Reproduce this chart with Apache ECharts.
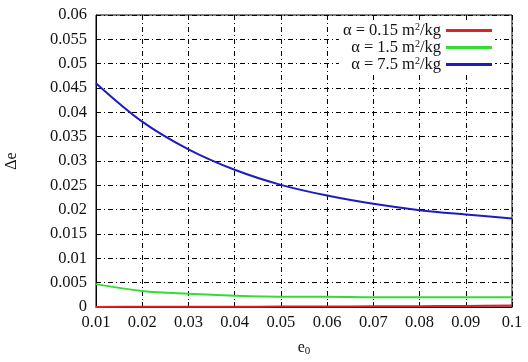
<!DOCTYPE html>
<html>
<head>
<meta charset="utf-8">
<script src="https://cdn.jsdelivr.net/npm/echarts@6/dist/echarts.min.js"></script>
<style>
  html, body { margin: 0; padding: 0; background: #fff; }
  #chart { width: 528px; height: 362px; }
</style>
</head>
<body>
<div id="chart"></div>
<script>
const e0 = [0.01, 0.02, 0.03, 0.04, 0.05, 0.06, 0.07, 0.08, 0.09, 0.1];
const redValues = [0.00002, 0.00003, 0.00004, 0.00006, 0.00008, 0.0001, 0.00013, 0.00017, 0.00022, 0.0003];
const greenValues = [0.0047, 0.0033, 0.0027, 0.0023, 0.0021, 0.0021, 0.002, 0.002, 0.002, 0.002];
const blueValues = [0.046, 0.0381, 0.0324, 0.0282, 0.0251, 0.0229, 0.0212, 0.0199, 0.019, 0.0182];
const seriesNames = ['α = 0.15 m²/kg', 'α = 1.5 m²/kg', 'α = 7.5 m²/kg'];
const colors = ['#e0202a', '#33dd33', '#1c1cc0'];

const font = '"Liberation Serif", "DejaVu Serif", serif';
const pairs = vals => e0.map((x, i) => [x, vals[i]]);
const gridDash = [5, 3, 1, 3];

const chart = echarts.init(document.getElementById('chart'));
chart.setOption({
  animation: false,
  grid: { left: 96, right: 16, top: 15, bottom: 55, show: true, borderColor: '#000', borderWidth: 1, outerBoundsMode: 'none', containLabel: false },
  legend: {
    orient: 'vertical',
    right: 33,
    top: 21,
    align: 'right',
    itemWidth: 46,
    itemHeight: 3,
    itemGap: 0,
    backgroundColor: '#fff',
    padding: [1, 3, 1, 4],
    icon: 'rect',
    data: seriesNames,
    formatter: n => n.replace('²', '{sup|2}'),
    textStyle: {
      fontFamily: font, fontSize: 16.5, lineHeight: 16.5, color: '#111',
      rich: { sup: { fontFamily: font, fontSize: 10, lineHeight: 10, color: '#111', padding: [0, 0, 6, 0] } }
    }
  },
  xAxis: {
    type: 'value',
    min: 0.01, max: 0.1, interval: 0.01,
    name: 'e{sub|0}',
    nameLocation: 'middle',
    nameGap: 31,
    nameTextStyle: {
      fontFamily: font, fontSize: 16, color: '#111',
      rich: { sub: { fontFamily: font, fontSize: 11, color: '#111', padding: [8, 0, 0, 0] } }
    },
    axisLine: { lineStyle: { color: '#000' } },
    axisTick: { inside: true, length: 5, lineStyle: { color: '#000' } },
    axisLabel: { fontFamily: font, fontSize: 16.5, color: '#111', margin: 7, formatter: v => String(+v.toFixed(3)) },
    splitLine: { show: true, lineStyle: { color: '#000', type: gridDash, width: 1 } }
  },
  yAxis: {
    type: 'value',
    min: 0, max: 0.06, interval: 0.005,
    name: 'Δe',
    nameLocation: 'middle',
    nameGap: 76,
    nameTextStyle: { fontFamily: font, fontSize: 16, color: '#111' },
    axisLine: { show: true, lineStyle: { color: '#000' } },
    axisTick: { show: true, inside: true, length: 5, lineStyle: { color: '#000' } },
    axisLabel: { fontFamily: font, fontSize: 16.5, color: '#111', margin: 9, formatter: v => String(+v.toFixed(4)) },
    splitLine: { show: true, lineStyle: { color: '#000', type: gridDash, width: 1 } }
  },
  series: [redValues, greenValues, blueValues].map((vals, i) => ({
    name: seriesNames[i],
    type: 'line',
    data: pairs(vals),
    smooth: 0.35,
    showSymbol: false,
    z: 5,
    color: colors[i],
    lineStyle: { width: 2, color: colors[i] }
  }))
});
</script>
</body>
</html>
